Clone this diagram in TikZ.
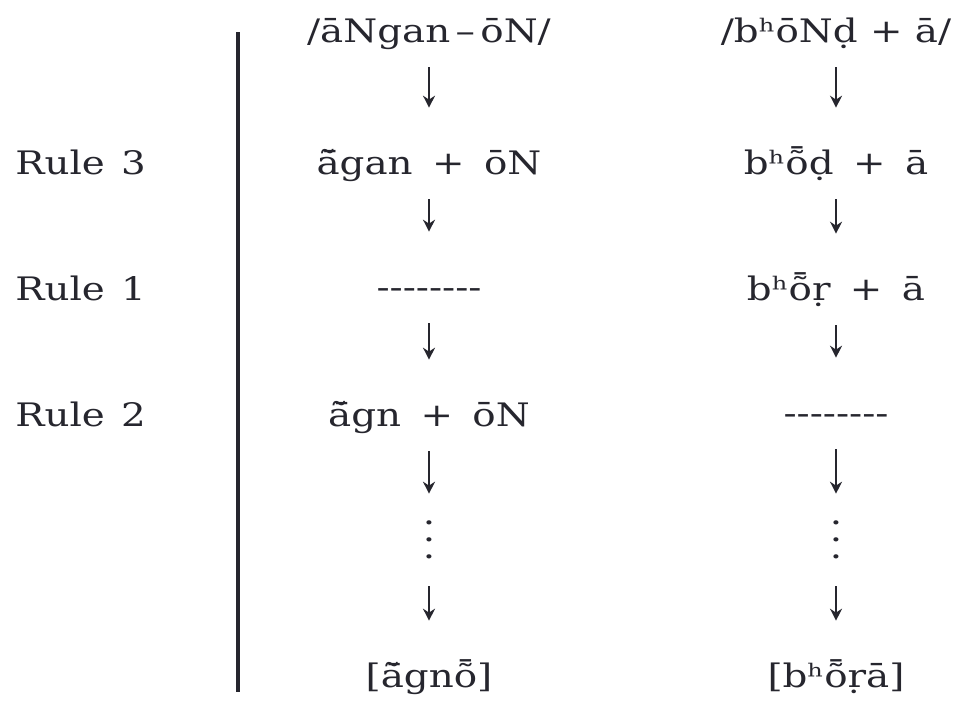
\documentclass[tikz,border=0pt]{standalone}
\usepackage{fontspec}
\setmainfont{DejaVu Serif}[FakeStretch=1.2]
\usetikzlibrary{arrows.meta}
\definecolor{ink}{HTML}{26262E}
\tikzset{
  form/.style={text=ink, font=\fontsize{23}{28}\selectfont, inner sep=0pt, anchor=base, text height=1.65cm, text depth=0.625cm},
  rulename/.style={form, anchor=base west},
  gapdots/.style={text=ink, font=\fontsize{23}{12}\selectfont, inner sep=0pt, align=center, minimum height=2.3cm},
  arrow/.style={-{Stealth[length=3mm,width=3mm]}, line width=1pt, draw=ink},
  divider/.style={draw=ink, line width=2.6pt}
}
\newcommand{\nasal}[1]{#1^^^^0303^^^^0304}
\newcommand{\plusgap}{\hspace{0.6em}}
\newcommand{\blank}{-{}-{}-{}-{}-{}-{}-{}-}

\begin{document}
\begin{tikzpicture}[x=0.025cm, y=-0.025cm]
  \useasboundingbox (0,0) rectangle (967,704);
  \draw[divider] (238,32) -- (238,692);
  \node[rulename] (rule3) at (15,174) {Rule\enspace 3};
  \node[rulename] (rule1) at (15,300) {Rule\enspace 1};
  \node[rulename] (rule2) at (15,426) {Rule\enspace 2};
  \node[form] (a0) at (429,42) {/āNgan\,–\,ōN/};
  \node[form] (a1) at (429,174) {\nasal{a}gan\plusgap+\plusgap ōN};
  \node[form] (a2) at (429,298) {\blank};
  \node[form] (a3) at (429,426) {\nasal{a}gn\plusgap+\plusgap ōN};
  \node[gapdots] (a4) at (429,540) {.\\.\\.};
  \node[form] (a5) at (429,687) {[\nasal{a}gn\nasal{o}]};
  \node[form] (b0) at (836,42) {/b^^^^02b0ōNḍ + ā/};
  \node[form] (b1) at (836,174) {b^^^^02b0\nasal{o}ḍ\plusgap+\plusgap ā};
  \node[form] (b2) at (836,300) {b^^^^02b0\nasal{o}ṛ\plusgap+\plusgap ā};
  \node[form] (b3) at (836,424) {\blank};
  \node[gapdots] (b4) at (836,540) {.\\.\\.};
  \node[form] (b5) at (836,687) {[b^^^^02b0\nasal{o}ṛā]};
  \foreach \c in {a,b} {
    \draw[arrow] (\c0.south) -- (\c1.north);
    \draw[arrow] (\c1.south) -- (\c2.north);
    \draw[arrow] (\c2.south) -- (\c3.north);
    \draw[arrow] (\c3.south) -- (\c4.north);
    \draw[arrow] (\c4.south) -- (\c5.north);
  }
\end{tikzpicture}
\end{document}
